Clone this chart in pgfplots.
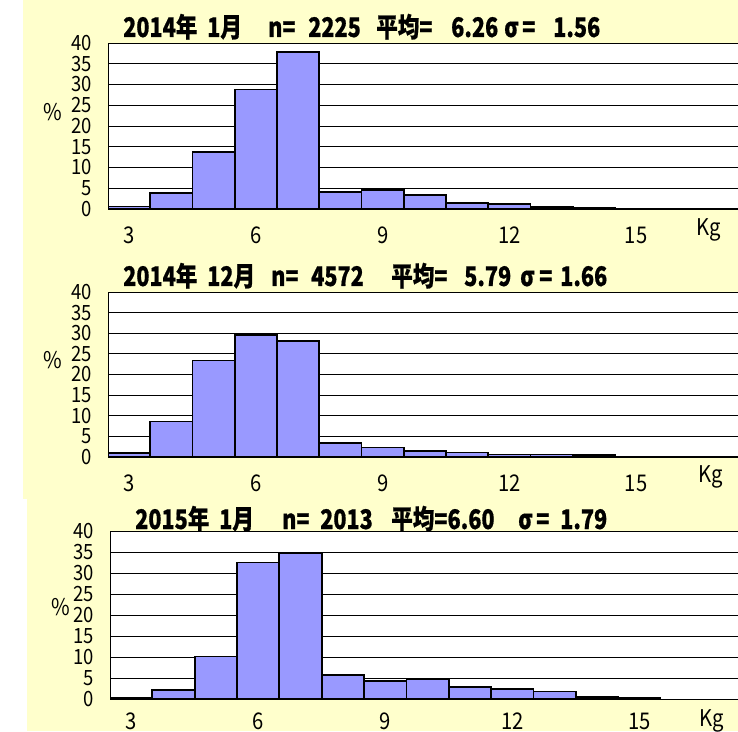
\documentclass[border=0pt]{standalone}
\usepackage{pgfplots}
\pgfplotsset{compat=1.18}
\usepackage{fontspec}
\setmainfont{Liberation Sans}
\newfontfamily\jp[FakeStretch=0.88]{Noto Sans CJK JP}
\newfontfamily\jpt[FakeStretch=0.8, BoldFeatures={FakeBold=0.6}]{Noto Sans CJK JP}
\definecolor{bgyel}{HTML}{FFFFCC}
\definecolor{barblue}{HTML}{9999FF}
\newcommand\tk[3]{\node[anchor=base west, inner sep=0pt, font=\jpt\bfseries\fontsize{27}{27}\selectfont] at (#1pt,#2pt) {#3};}
\pgfplotsset{
  hist/.style={
    scale only axis, anchor=south west,
    xmin=2.5, ymin=0, ymax=40,
    axis x line*=bottom, axis y line*=left,
    axis line style={-, black, line width=1pt},
    ytick={0,5,...,40}, xtick={3,6,9,12,15},
    ymajorgrids, grid style={black, line width=0.8pt},
    major tick length=0pt,
    axis background/.style={fill=white},
    /pgf/number format/assume math mode=true,
    yticklabel style={anchor=east, inner sep=0pt, xshift=-16pt, font=\jp\fontsize{21}{21}\selectfont},
    xticklabel style={anchor=center, inner sep=0pt, font=\jp\fontsize{23}{23}\selectfont},
    ybar, bar width=1,
    cycle list={{fill=barblue, draw=black}},
    every axis plot/.append style={line width=1.8pt},
  }
}
\begin{document}
\begin{tikzpicture}[x=1pt,y=1pt]
\fill[white] (0,0) rectangle (738,731);
\fill[bgyel] (23,232) rectangle (738,731);
\fill[bgyel] (27,0) rectangle (738,232);

% Panel 1
\begin{axis}[hist, at={(108pt,522pt)}, width=630pt, height=166pt, xmax=17.41,
  xticklabel style={yshift=-26pt}]
\addplot coordinates {(3,0.6) (4,3.8) (5,13.7) (6,28.8) (7,37.8) (8,4.1) (9,4.5) (10,3.4) (11,1.5) (12,1.2) (13,0.5) (14,0.25)};
\end{axis}
% Panel 2
\begin{axis}[hist, at={(108pt,274pt)}, width=630pt, height=165pt, xmax=17.41,
  xticklabel style={yshift=-26pt}]
\addplot coordinates {(3,0.9) (4,8.6) (5,23.4) (6,29.6) (7,28.1) (8,3.3) (9,2.3) (10,1.5) (11,1.1) (12,0.6) (13,0.6) (14,0.5)};
\end{axis}
% Panel 3
\begin{axis}[hist, at={(110pt,32pt)}, width=628pt, height=168pt, xmax=17.33,
  xticklabel style={yshift=-22pt}]
\addplot coordinates {(3,0.15) (4,2.1) (5,10.1) (6,32.5) (7,34.7) (8,5.7) (9,4.3) (10,4.8) (11,2.9) (12,2.4) (13,1.8) (14,0.5) (15,0.3)};
\end{axis}

% Titles
\tk{123}{694}{2014年}\tk{207}{694}{1月}\tk{268}{694}{n=}\tk{308}{694}{2225}\tk{376}{694}{平均=}\tk{451}{694}{6.26}\tk{504}{694}{σ}\tk{522}{694}{=}\tk{553}{694}{1.56}
\tk{123}{445}{2014年}\tk{207}{445}{12月}\tk{271}{445}{n=}\tk{311}{445}{4572}\tk{391}{445}{平均=}\tk{464}{445}{5.79}\tk{520}{445}{σ}\tk{539}{445}{=}\tk{560}{445}{1.66}
\tk{135}{202}{2015年}\tk{219}{202}{1月}\tk{282}{202}{n=}\tk{320}{202}{2013}\tk{391}{202}{平均=6.60}\tk{518}{202}{σ}\tk{536}{202}{=}\tk{560}{202}{1.79}

% axis labels
\begin{scope}[every node/.style={font=\jp\fontsize{23}{23}\selectfont, inner sep=0pt}]
\node at (53,619) {\%};
\node at (53,371) {\%};
\node at (61,124) {\%};
\node at (709,501) {Kg};
\node at (711,254) {Kg};
\node at (712,10) {Kg};
\end{scope}
\pgfresetboundingbox
\useasboundingbox (0,0) rectangle (738,731);
\end{tikzpicture}
\end{document}
